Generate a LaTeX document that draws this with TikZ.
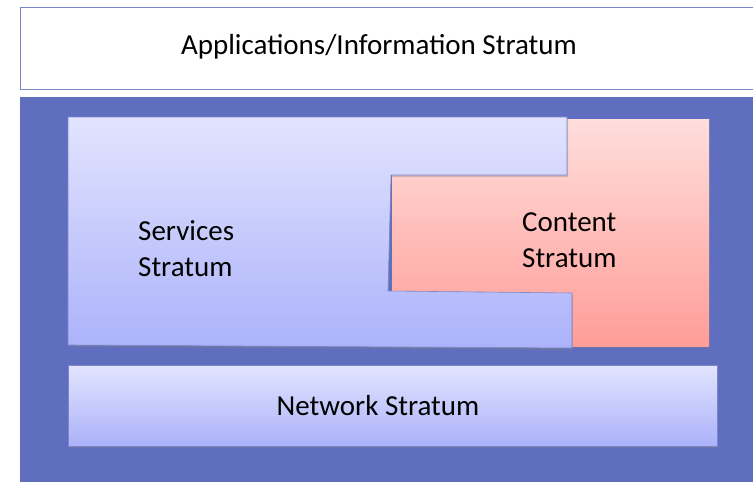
\documentclass[tikz,border=0pt]{standalone}
\usepackage{fontspec}
\setmainfont{Carlito}
\usetikzlibrary{shadows}
\definecolor{outerblue}{HTML}{5F6EBF}
\definecolor{ltop}{HTML}{E2E4FE}
\definecolor{lbot}{HTML}{ABB2FA}
\definecolor{ptop}{HTML}{FFDEDC}
\definecolor{pbot}{HTML}{FF9D98}
\definecolor{edge}{HTML}{7C86C8}
\tikzset{
  lab/.style={font=\fontsize{29}{36}\selectfont, text=black, align=left, inner sep=0pt},
  lavender/.style={top color=ltop, bottom color=lbot, draw=edge, line width=0.6pt,
     drop shadow={opacity=0.35, shadow xshift=1pt, shadow yshift=-2pt}},
}
\begin{document}
\begin{tikzpicture}[x=1pt,y=-1pt]
\useasboundingbox (0,0) rectangle (753,482);
\fill[white] (0,0) rectangle (753,482);
% top box
\draw[draw=edge, line width=0.8pt, fill=white] (20,7) rectangle (760,89);
\node[lab] (app) at (379,47) {Applications/Information Stratum};
% outer blue
\fill[outerblue] (20,97) rectangle (760,490);
% content
\path[top color=ptop, bottom color=pbot, drop shadow={opacity=0.35, shadow xshift=1pt, shadow yshift=-2pt}] (392,119) rectangle (709,346);
% services
\path[lavender] (68,117) -- (567,117) -- (567,175) -- (391,175) -- (388,291) -- (572,293) -- (572,348) -- (68,345) -- cycle;
\node[lab, anchor=west] (svc) at (138,249) {Services\\Stratum};
\node[lab, anchor=west] (cnt) at (522,240) {Content\\Stratum};
% network
\path[lavender] (68,365) rectangle (717,446);
\node[lab] (net) at (378,406) {Network Stratum};
\end{tikzpicture}
\end{document}
